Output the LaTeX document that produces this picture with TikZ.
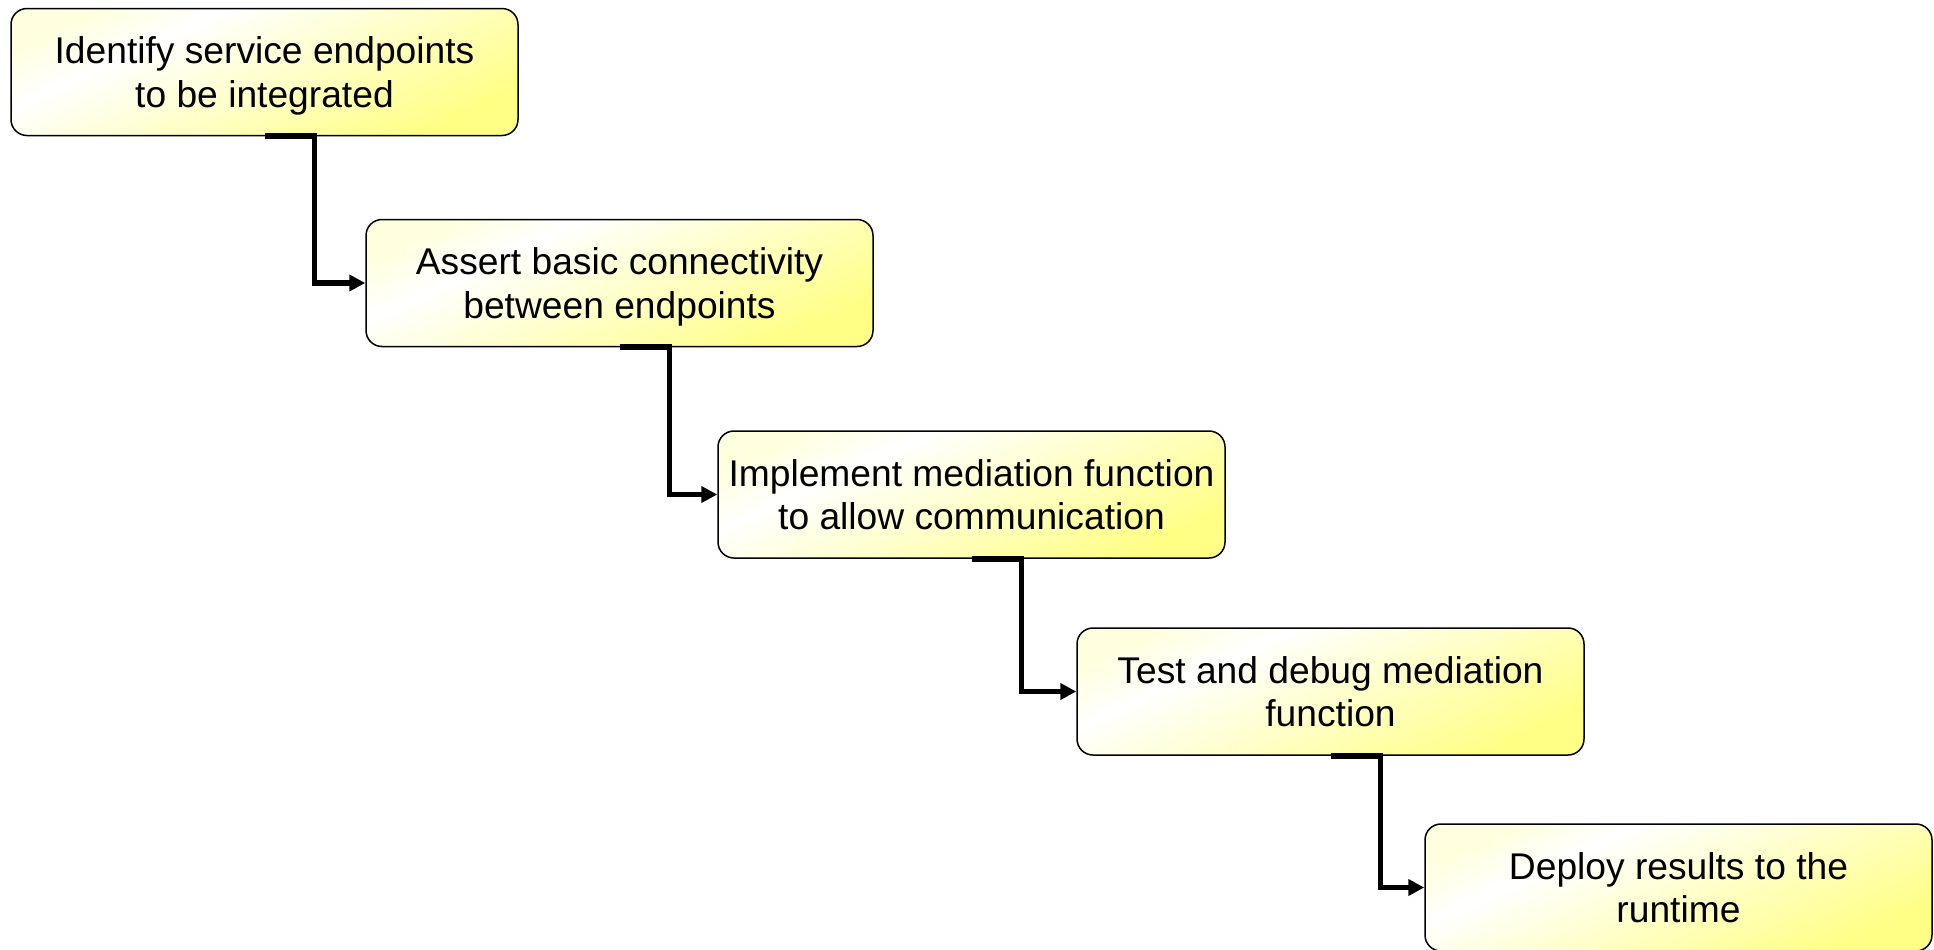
\documentclass[tikz,border=0pt]{standalone}
\usepackage{fontspec}
\setmainfont{Liberation Sans}
\usetikzlibrary{arrows.meta}
\pgfdeclarehorizontalshading{boxshade}{100bp}{%
  rgb(0bp)=(1,1,0.88);
  rgb(25bp)=(1,1,0.88);
  rgb(35bp)=(1,1,1);
  rgb(55bp)=(1,1,0.76);
  rgb(75bp)=(1,1,0.52);
  rgb(100bp)=(1,1,0.52)}
\tikzset{
  stepbox/.style={draw=black, line width=0.75pt, rounded corners=8pt,
    minimum width=253.5pt, minimum height=63.5pt, inner sep=0pt,
    shading=boxshade, shading angle=-65, text depth=0pt,
    align=center, font=\fontsize{18.6pt}{21.6pt}\selectfont},
  flow/.style={line width=2.8pt, -{Triangle[length=8pt,width=8pt]}}
}
\begin{document}
\begin{tikzpicture}[x=0.5pt,y=-0.5pt]
\useasboundingbox (0,0) rectangle (1934,949);
\node[stepbox] (b1) at (264.5,72) {Identify service endpoints\\to be integrated};
\node[stepbox] (b2) at (619.5,283) {Assert basic connectivity\\between endpoints};
\node[stepbox] (b3) at (971.5,494.5) {Implement mediation function\\to allow communication};
\node[stepbox] (b4) at (1330.5,691.5) {Test and debug mediation\\function};
\node[stepbox] (b5) at (1678.5,887.5) {Deploy results to the\\runtime};
\draw[flow] (b1.south) -- ++(50,0) |- (b2.west);
\draw[flow] (b2.south) -- ++(50,0) |- (b3.west);
\draw[flow] (b3.south) -- ++(50,0) |- (b4.west);
\draw[flow] (b4.south) -- ++(50,0) |- (b5.west);
\end{tikzpicture}
\end{document}
